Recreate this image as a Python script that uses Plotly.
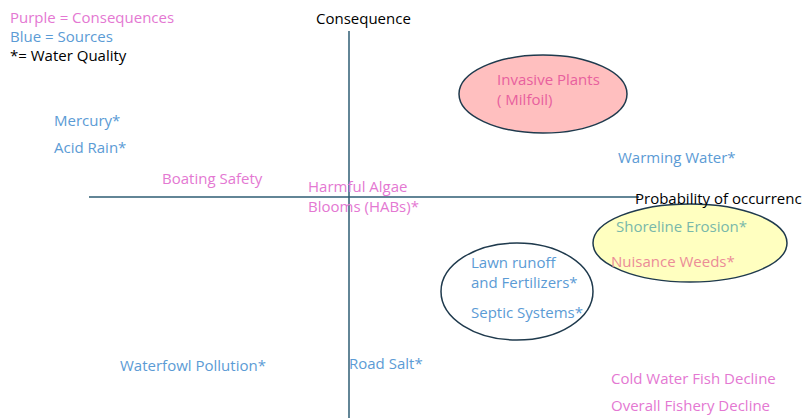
import plotly.graph_objects as go

# Risk matrix: x = probability of occurrence, y = consequence (axes cross at 0,0)
labels = [
    "Mercury*", "Acid Rain*", "Boating Safety", "Harmful Algae<br>Blooms (HABs)*",
    "Invasive Plants<br>( Milfoil)", "Warming Water*", "Shoreline Erosion*",
    "Nuisance Weeds*", "Lawn runoff<br>and Fertilizers*", "Septic Systems*",
    "Waterfowl Pollution*", "Road Salt*", "Cold Water Fish Decline",
    "Overall Fishery Decline",
]
probability = [-295, -295, -187, -41, 148, 269, 267, 262, 122, 122, -229, 0, 262, 262]
consequence = [75, 48, 17, -1, 106, 38, -31, -66, -77, -117, -170, -168, -183, -210]
kind = ["source", "source", "consequence", "consequence", "invasive", "source",
        "erosion", "weeds", "source", "source", "source", "source",
        "consequence", "consequence"]

legend_lines = ["Purple = Consequences", "Blue = Sources", "*= Water Quality"]
legend_kind = ["consequence", "source", "plain"]

palette = {
    "source": "#5B9BD5",
    "consequence": "#E478D2",
    "invasive": "#E8609E",
    "erosion": "#79B8AA",
    "weeds": "#EB8C98",
    "plain": "#000000",
}

FONT = "Open Sans"
SIZE = 15

fig = go.Figure()

fig.add_trace(go.Scatter(
    x=probability, y=consequence, text=labels, mode="text",
    textposition="middle right", cliponaxis=False,
    textfont=dict(family=FONT, size=SIZE, color=[palette[k] for k in kind]),
    hoverinfo="text", showlegend=False,
))

legend_y = [178, 159, 140]
fig.add_trace(go.Scatter(
    x=[-339] * 3, y=legend_y, text=legend_lines, mode="text",
    textposition="middle right", cliponaxis=False,
    textfont=dict(family=FONT, size=SIZE, color=[palette[k] for k in legend_kind]),
    hoverinfo="skip", showlegend=False,
))

line_col = "#2E5C73"
edge_col = "#1F3A4D"
shapes = [
    dict(type="line", xref="x", yref="y", x0=-260, x1=290, y0=0, y1=0,
         line=dict(color=line_col, width=1.5), layer="below"),
    dict(type="line", xref="x", yref="y", x0=0, x1=0, y0=166, y1=-229,
         line=dict(color=line_col, width=1.5), layer="below"),
    dict(type="circle", xref="x", yref="y", x0=110, x1=278, y0=64, y1=142,
         fillcolor="#FFBFBF", line=dict(color=edge_col, width=1.5), layer="below"),
    dict(type="circle", xref="x", yref="y", x0=244, x1=438, y0=-85, y1=-7,
         fillcolor="#FFFFC0", line=dict(color=edge_col, width=1.5), layer="below"),
    dict(type="circle", xref="x", yref="y", x0=92, x1=244, y0=-143, y1=-46,
         fillcolor="rgba(255,255,255,0)", line=dict(color=edge_col, width=1.5), layer="below"),
]

annotations = [
    dict(x=14, y=179, xref="x", yref="y", text="Consequence", showarrow=False,
         font=dict(family=FONT, size=SIZE, color="#000000"), xanchor="center", yanchor="middle"),
    dict(x=284, y=-1, xref="x", yref="y", text="Probability of occurrence", showarrow=False,
         font=dict(family=FONT, size=SIZE, color="#000000"), xanchor="left", yanchor="middle"),
]

# the page body adds an 8px margin, so the view is shifted by 8px on both axes
fig.update_layout(
    width=810, height=418,
    margin=dict(l=0, r=0, t=0, b=0),
    paper_bgcolor="white", plot_bgcolor="white",
    shapes=shapes, annotations=annotations,
    xaxis=dict(range=[-341, 469], visible=False, fixedrange=True),
    yaxis=dict(range=[-229, 189], visible=False, fixedrange=True),
)

fig.write_html("out.html")
